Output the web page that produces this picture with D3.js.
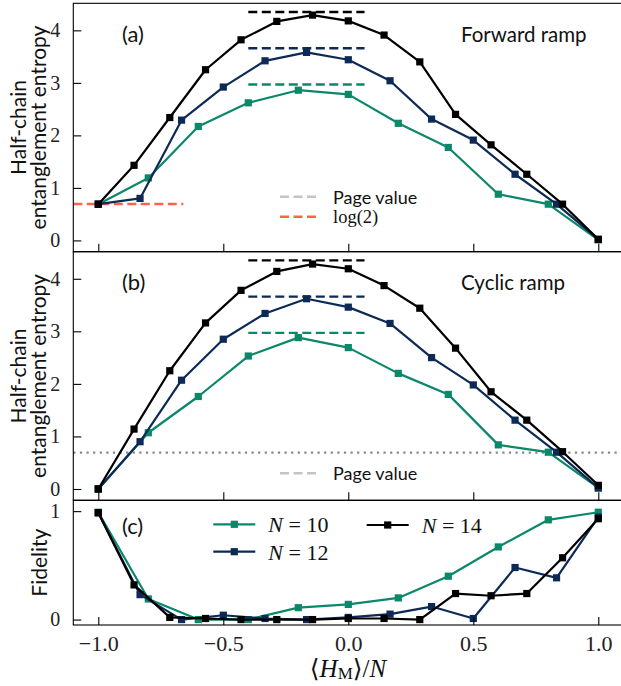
<!DOCTYPE html>
<html>
<head>
<meta charset="utf-8">
<script src="https://cdn.jsdelivr.net/npm/d3@7"></script>
<style>
html,body{margin:0;padding:0;background:#fff;}
svg{display:block;}
</style>
</head>
<body>
<svg id="chart" width="621" height="686"></svg>
<script>
// ---------------- data ----------------
const x10 = [-1.0,-0.8,-0.6,-0.4,-0.2,0.0,0.2,0.4,0.6,0.8,1.0];
const x12 = [-1.0,-0.833,-0.667,-0.5,-0.333,-0.167,0.0,0.167,0.333,0.5,0.667,0.833,1.0];
const x14 = [-1.0,-0.857,-0.714,-0.571,-0.429,-0.286,-0.143,0.0,0.143,0.286,0.429,0.571,0.714,0.857,1.0];

// (a) forward ramp entropy
const fwd10 = [0.69,1.19,2.17,2.62,2.86,2.78,2.23,1.77,0.88,0.69,0.01];
const fwd12 = [0.69,0.80,2.29,2.92,3.42,3.58,3.44,3.04,2.31,1.91,1.26,0.69,0.02];
const fwd14 = [0.69,1.43,2.34,3.25,3.82,4.17,4.29,4.18,3.91,3.40,2.40,1.82,1.26,0.69,0.02];

// (b) cyclic ramp entropy
const cyc10 = [0.0,1.07,1.76,2.53,2.88,2.69,2.20,1.80,0.84,0.70,0.02];
const cyc12 = [0.0,0.90,2.07,2.85,3.34,3.62,3.46,3.15,2.50,1.98,1.31,0.70,0.02];
const cyc14 = [0.0,1.14,2.25,3.16,3.78,4.14,4.28,4.19,3.87,3.44,2.68,1.85,1.31,0.71,0.07];

// (c) fidelity
const fid10 = [0.99,0.19,0.0,0.0,0.11,0.14,0.20,0.40,0.67,0.92,0.99];
const fid12 = [0.985,0.23,0.0,0.04,0.01,0.0,0.02,0.05,0.12,0.01,0.48,0.385,0.945];
const fid14 = [0.985,0.32,0.02,0.01,0.0,0.0,0.0,0.01,0.01,0.0,0.24,0.22,0.24,0.57,0.93];

// Page values (N = 10, 12, 14) and log(2)
const pageN = [10, 12, 14];
const pageValues = [2.97, 3.66, 4.35];
const pageRange = [-0.4, 0.065];
const log2 = 0.693;

const seriesNames = ["N = 10", "N = 12", "N = 14"];
const xTicks = [-1.0, -0.5, 0.0, 0.5, 1.0];
const xTickLabels = ["\u22121.0", "\u22120.5", "0.0", "0.5", "1.0"];
const entTicks = [0, 1, 2, 3, 4];
const fidTicks = [0, 1];

// ---------------- styling ----------------
const colors = ["#0b8769", "#0d2a56", "#000000"];
const SANS = "Lato, 'Open Sans', 'DejaVu Sans', sans-serif";
const SERIF = "'Liberation Serif', 'DejaVu Serif', serif";

const svg = d3.select("#chart");
svg.append("rect").attr("width", 621).attr("height", 686).attr("fill", "#fff");

const x = d3.scaleLinear().domain([-1.1, 1.1]).range([73.3, 623.3]);

const yA = d3.scaleLinear().domain([-0.215, 4.515]).range([251.7, 3.3]);
const yB = d3.scaleLinear().domain([-0.215, 4.515]).range([500.3, 251.7]);
const yC = d3.scaleLinear().domain([-0.05, 1.1]).range([625, 500.3]);

const xsets = [x10, x12, x14];

function drawSeries(g, y, ysets) {
  ysets.forEach((ys, i) => {
    const pts = ys.map((v, j) => [xsets[i][j], v]);
    const line = d3.line().x(d => x(d[0])).y(d => y(d[1]));
    g.append("path").datum(pts).attr("d", line)
      .attr("fill", "none").attr("stroke", colors[i]).attr("stroke-width", 2.2)
      .attr("stroke-linejoin", "round");
    g.selectAll(null).data(pts).enter().append("rect")
      .attr("x", d => x(d[0]) - 3.6).attr("y", d => y(d[1]) - 3.6)
      .attr("width", 7.2).attr("height", 7.2).attr("fill", colors[i]);
  });
}

function drawFrame(y, ticks, showXLabels) {
  const [y0, y1] = y.range(); // bottom, top
  const g = svg.append("g");
  const xa = d3.axisBottom(x).tickValues(xTicks).tickSizeInner(-8).tickSizeOuter(0)
    .tickFormat((d, i) => showXLabels ? xTickLabels[i] : "").tickPadding(16);
  const gx = g.append("g").attr("transform", `translate(0,${y0})`).call(xa);
  gx.select(".domain").remove();
  gx.selectAll("line").attr("stroke", "#000").attr("stroke-width", 1.1);
  gx.selectAll("text").attr("font-family", SERIF).attr("font-size", 22).attr("fill", "#222")
    .attr("dy", "0.45em");
  const ya = d3.axisLeft(y).tickValues(ticks).tickSizeInner(-8).tickSizeOuter(0)
    .tickFormat(d3.format("d")).tickPadding(13);
  const gy = g.append("g").attr("transform", `translate(${x.range()[0]},0)`).call(ya);
  gy.select(".domain").remove();
  gy.selectAll("line").attr("stroke", "#000").attr("stroke-width", 1.1);
  gy.selectAll("text").attr("font-family", SERIF).attr("font-size", 20).attr("fill", "#222");
  g.append("rect").attr("x", x.range()[0]).attr("y", y1)
    .attr("width", x.range()[1] - x.range()[0]).attr("height", y0 - y1)
    .attr("fill", "none").attr("stroke", "#000").attr("stroke-width", 1.1);
}

function pageLines(g, y) {
  pageValues.forEach((v, i) => {
    g.append("line").attr("x1", x(pageRange[0])).attr("x2", x(pageRange[1]))
      .attr("y1", y(v)).attr("y2", y(v))
      .attr("stroke", colors[i]).attr("stroke-width", 2.4).attr("stroke-dasharray", "9,4.5");
  });
}

function ylabel2(cy) {
  svg.append("text").attr("transform", `translate(26,${cy}) rotate(-90)`)
    .attr("text-anchor", "middle").attr("font-family", SANS).attr("font-size", 21)
    .attr("fill", "#111").text("Half-chain");
  svg.append("text").attr("transform", `translate(46,${cy}) rotate(-90)`)
    .attr("text-anchor", "middle").attr("font-family", SANS).attr("font-size", 21)
    .attr("fill", "#111").text("entanglement entropy");
}

// -------- panel (a) --------
const gA = svg.append("g");
gA.append("line").attr("x1", x.range()[0]).attr("x2", x.range()[0] + 0.2 * (x.range()[1] - x.range()[0]))
  .attr("y1", yA(log2)).attr("y2", yA(log2))
  .attr("stroke", "#ff6347").attr("stroke-width", 2.4).attr("stroke-dasharray", "9,4.5");
pageLines(gA, yA);
drawSeries(gA, yA, [fwd10, fwd12, fwd14]);
drawFrame(yA, entTicks, false);

// -------- panel (b) --------
const gB = svg.append("g");
gB.append("line").attr("x1", x.range()[0]).attr("x2", x.range()[1])
  .attr("y1", yB(log2)).attr("y2", yB(log2))
  .attr("stroke", "#888").attr("stroke-width", 2.2).attr("stroke-dasharray", "2.2,4.4");
pageLines(gB, yB);
drawSeries(gB, yB, [cyc10, cyc12, cyc14]);
drawFrame(yB, entTicks, false);

// -------- panel (c) --------
const gC = svg.append("g");
drawSeries(gC, yC, [fid10, fid12, fid14]);
drawFrame(yC, fidTicks, true);

// -------- labels --------
function panelText(t, px, py, size) {
  svg.append("text").attr("x", px).attr("y", py).attr("dominant-baseline", "central")
    .attr("font-family", SANS).attr("font-size", size).attr("fill", "#111").text(t);
}
panelText("(a)", 122, 33.5, 22);
panelText("(b)", 122, 281.5, 22);
panelText("(c)", 122, 525, 22);
panelText("Forward ramp", 461, 33.5, 20.5);
panelText("Cyclic ramp", 461, 281.5, 20.5);

ylabel2((yA.range()[0] + yA.range()[1]) / 2);
ylabel2((yB.range()[0] + yB.range()[1]) / 2);
svg.append("text").attr("transform", `translate(47,${(yC.range()[0] + yC.range()[1]) / 2}) rotate(-90)`)
  .attr("text-anchor", "middle").attr("font-family", SANS).attr("font-size", 21)
  .attr("fill", "#111").text("Fidelity");

// x label  <H_M>/N
const xl = svg.append("text").attr("x", 348).attr("y", 668).attr("text-anchor", "middle")
  .attr("dominant-baseline", "central").attr("font-family", SERIF).attr("font-size", 25).attr("fill", "#111");
xl.append("tspan").text("\u27E8");
xl.append("tspan").attr("font-style", "italic").text("H");
xl.append("tspan").attr("font-size", 17).attr("dy", 5).text("M");
xl.append("tspan").attr("dy", -5).text("\u27E9/");
xl.append("tspan").attr("font-style", "italic").text("N");

// legends (a) and (b)
function legendDash(yy, color, label, isMath) {
  svg.append("line").attr("x1", 280).attr("x2", 318).attr("y1", yy).attr("y2", yy)
    .attr("stroke", color).attr("stroke-width", 2.4).attr("stroke-dasharray", "9,4.5");
  svg.append("text").attr("x", 333).attr("y", yy).attr("dominant-baseline", "central")
    .attr("font-family", isMath ? SERIF : SANS).attr("font-size", isMath ? 18.5 : 18)
    .attr("fill", "#111").text(label);
}
legendDash(196.7, "#c4c4c4", "Page value", false);
legendDash(216.7, "#ff6347", "log(2)", true);
legendDash(473.3, "#c4c4c4", "Page value", false);

// legend (c)
const legPos = [[213.3, 524.3], [213.3, 551.7], [366.7, 525]];
seriesNames.forEach((name, i) => {
  const [lx, ly] = legPos[i];
  svg.append("line").attr("x1", lx).attr("x2", lx + 42).attr("y1", ly).attr("y2", ly)
    .attr("stroke", colors[i]).attr("stroke-width", 2.2);
  svg.append("rect").attr("x", lx + 21 - 3.6).attr("y", ly - 3.6).attr("width", 7.2).attr("height", 7.2)
    .attr("fill", colors[i]);
  const parts = name.split(" = ");
  const t = svg.append("text").attr("x", lx + 55).attr("y", ly).attr("dominant-baseline", "central")
    .attr("font-family", SERIF).attr("font-size", 22).attr("fill", "#111");
  t.append("tspan").attr("font-style", "italic").text(parts[0]);
  t.append("tspan").text(" = " + parts[1]);
});
</script>
</body>
</html>
